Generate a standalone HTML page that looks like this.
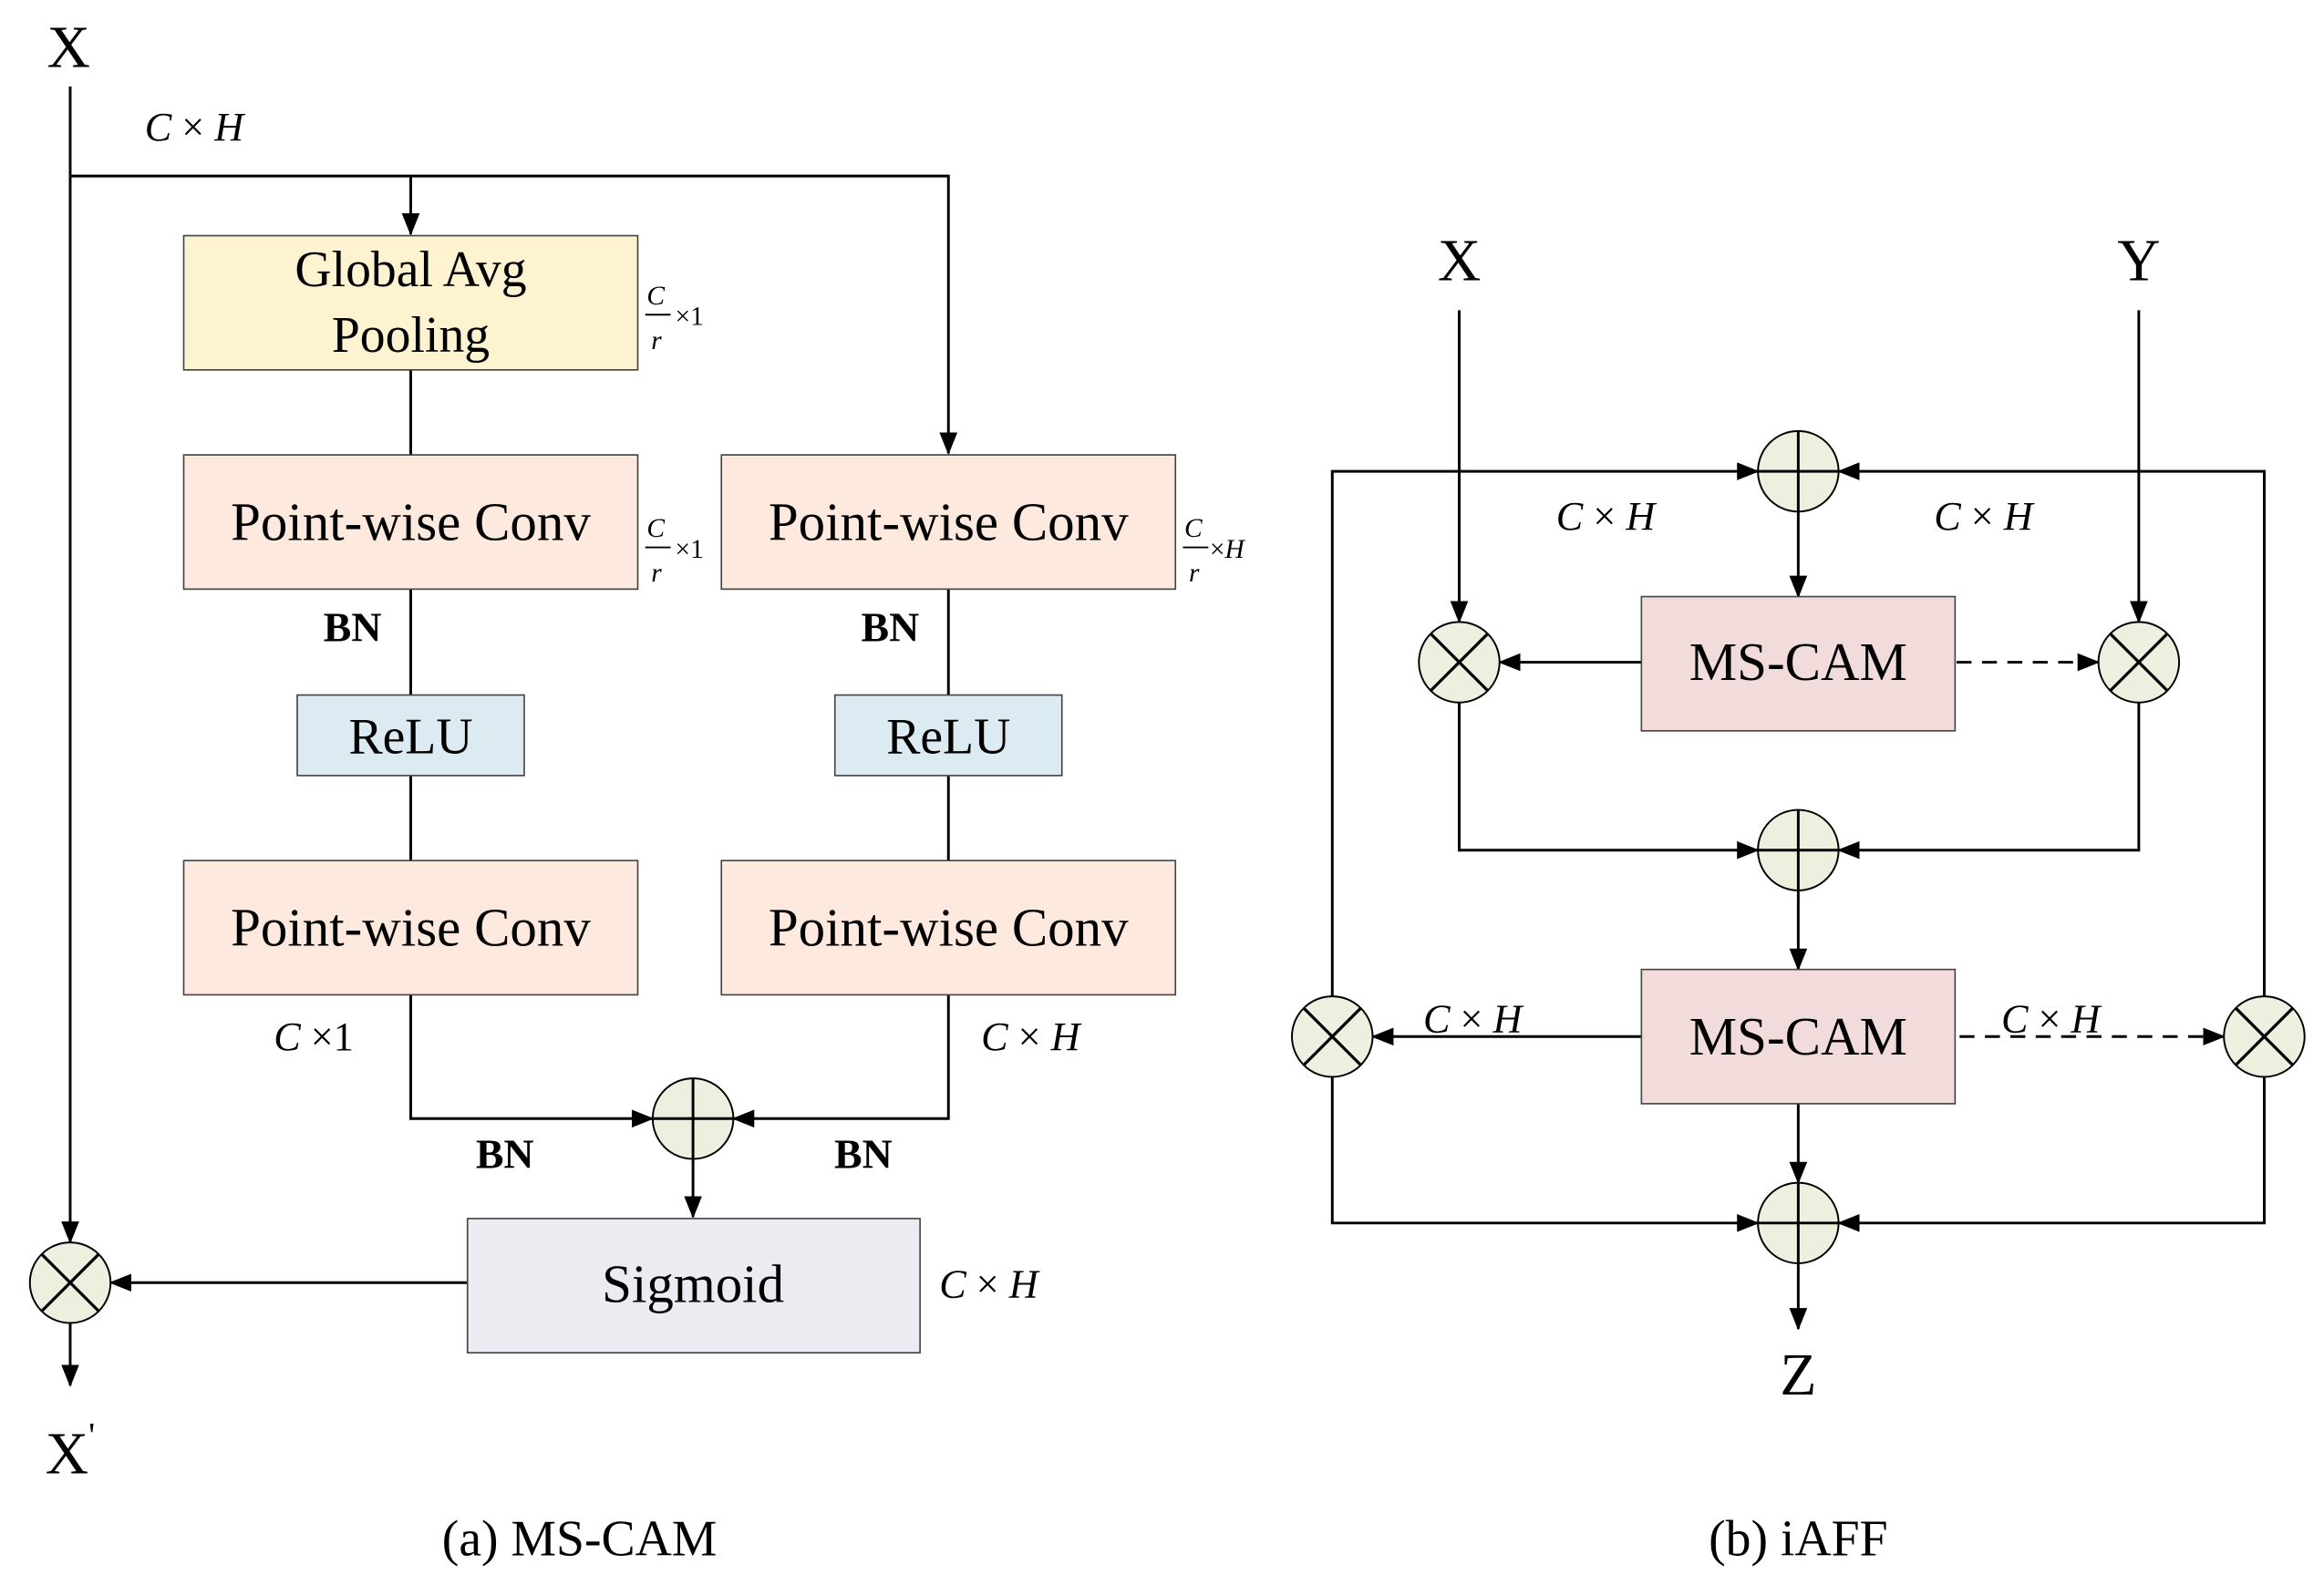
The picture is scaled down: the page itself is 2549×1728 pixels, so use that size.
<!DOCTYPE html>
<html><head><meta charset="utf-8"><style>html,body{margin:0;padding:0;background:#fff}svg{display:block}</style></head>
<body>
<svg width="2549" height="1728" viewBox="0 0 1556 1056" preserveAspectRatio="none" xmlns="http://www.w3.org/2000/svg" font-family="Liberation Serif, serif">
<defs>
<marker id="a" markerWidth="15" markerHeight="12" refX="14" refY="6" orient="auto" markerUnits="userSpaceOnUse" viewBox="0 0 15 12"><path d="M0,0 L15,6 L0,12 z" fill="#000"/></marker>
</defs>
<g stroke="#000" stroke-width="1.8" fill="none">
<line x1="47" y1="58" x2="47" y2="833" marker-end="url(#a)"/>
<polyline points="47,118 635,118 635,304" marker-end="url(#a)"/>
<line x1="275" y1="118" x2="275" y2="157" marker-end="url(#a)"/>
<line x1="275" y1="248" x2="275" y2="305"/>
<line x1="275" y1="395" x2="275" y2="466"/>
<line x1="635" y1="395" x2="635" y2="466"/>
<line x1="275" y1="520" x2="275" y2="577"/>
<line x1="635" y1="520" x2="635" y2="577"/>
<polyline points="275,667 275,750 437,750" marker-end="url(#a)"/>
<polyline points="635,667 635,750 491,750" marker-end="url(#a)"/>
<line x1="464" y1="777" x2="464" y2="816" marker-end="url(#a)"/>
<line x1="313" y1="860" x2="74" y2="860" marker-end="url(#a)"/>
<line x1="47" y1="886" x2="47" y2="929" marker-end="url(#a)"/>
<polyline points="892,668 892,316 1177,316" marker-end="url(#a)"/>
<polyline points="1516,668 1516,316 1231,316" marker-end="url(#a)"/>
<line x1="977" y1="208" x2="977" y2="417" marker-end="url(#a)"/>
<line x1="1432" y1="208" x2="1432" y2="417" marker-end="url(#a)"/>
<line x1="1204" y1="343" x2="1204" y2="400" marker-end="url(#a)"/>
<line x1="1099" y1="444" x2="1004" y2="444" marker-end="url(#a)"/>
<line x1="1310" y1="444" x2="1405" y2="444" stroke-dasharray="10,7" marker-end="url(#a)"/>
<polyline points="977,471 977,570 1177,570" marker-end="url(#a)"/>
<polyline points="1432,471 1432,570 1231,570" marker-end="url(#a)"/>
<line x1="1204" y1="597" x2="1204" y2="650" marker-end="url(#a)"/>
<line x1="1099" y1="695" x2="919" y2="695" marker-end="url(#a)"/>
<line x1="1312" y1="695" x2="1489" y2="695" stroke-dasharray="10,7" marker-end="url(#a)"/>
<polyline points="892,722 892,820 1177,820" marker-end="url(#a)"/>
<polyline points="1516,722 1516,820 1231,820" marker-end="url(#a)"/>
<line x1="1204" y1="740" x2="1204" y2="793" marker-end="url(#a)"/>
<line x1="1204" y1="847" x2="1204" y2="891" marker-end="url(#a)"/>
</g>
<g stroke="#444" stroke-width="1">
<rect x="123" y="158" width="304" height="90" fill="#fdf3d0"/>
<rect x="123" y="305" width="304" height="90" fill="#fde9de"/>
<rect x="483" y="305" width="304" height="90" fill="#fde9de"/>
<rect x="199" y="466" width="152" height="54" fill="#dcebf1"/>
<rect x="559" y="466" width="152" height="54" fill="#dcebf1"/>
<rect x="123" y="577" width="304" height="90" fill="#fde9de"/>
<rect x="483" y="577" width="304" height="90" fill="#fde9de"/>
<rect x="313" y="817" width="303" height="90" fill="#ecebf2"/>
<rect x="1099" y="400" width="210" height="90" fill="#f2dcdb"/>
<rect x="1099" y="650" width="210" height="90" fill="#f2dcdb"/>
</g>
<g stroke="#000" stroke-width="1.2" fill="#ebf1de">
<circle cx="464" cy="750" r="27"/><path d="M464,723 V777 M437,750 H491" fill="none" stroke-width="1.8"/>
<circle cx="1204" cy="316" r="27"/><path d="M1204,289 V343 M1177,316 H1231" fill="none" stroke-width="1.8"/>
<circle cx="1204" cy="570" r="27"/><path d="M1204,543 V597 M1177,570 H1231" fill="none" stroke-width="1.8"/>
<circle cx="1204" cy="820" r="27"/><path d="M1204,793 V847 M1177,820 H1231" fill="none" stroke-width="1.8"/>
<circle cx="47" cy="860" r="27"/><path d="M28,841 L66,879 M66,841 L28,879" fill="none" stroke-width="2"/>
<circle cx="977" cy="444" r="27"/><path d="M958,425 L996,463 M996,425 L958,463" fill="none" stroke-width="2"/>
<circle cx="1432" cy="444" r="27"/><path d="M1413,425 L1451,463 M1451,425 L1413,463" fill="none" stroke-width="2"/>
<circle cx="892" cy="695" r="27"/><path d="M873,676 L911,714 M911,676 L873,714" fill="none" stroke-width="2"/>
<circle cx="1516" cy="695" r="27"/><path d="M1497,676 L1535,714 M1535,676 L1497,714" fill="none" stroke-width="2"/>
</g>
<g fill="#000" text-anchor="middle">
<text x="46" y="45" font-size="40">X</text>
<text x="47" y="988" font-size="40">X<tspan font-size="24" dy="-18">'</tspan></text>
<text x="275" y="192" font-size="34">Global Avg</text>
<text x="275" y="236" font-size="34">Pooling</text>
<text x="275" y="362" font-size="36">Point-wise Conv</text>
<text x="635" y="362" font-size="36">Point-wise Conv</text>
<text x="275" y="505" font-size="34">ReLU</text>
<text x="635" y="505" font-size="34">ReLU</text>
<text x="275" y="634" font-size="36">Point-wise Conv</text>
<text x="635" y="634" font-size="36">Point-wise Conv</text>
<text x="464" y="873" font-size="36">Sigmoid</text>
<text x="1204" y="456" font-size="36">MS-CAM</text>
<text x="1204" y="707" font-size="36">MS-CAM</text>
<text x="977" y="188" font-size="40">X</text>
<text x="1432" y="188" font-size="40">Y</text>
<text x="1204" y="935" font-size="40">Z</text>
<text x="388" y="1043" font-size="34">(a) MS-CAM</text>
<text x="1204" y="1043" font-size="34">(b) iAFF</text>
<g font-weight="bold" font-size="28">
<text x="236" y="430">BN</text><text x="596" y="430">BN</text>
<text x="338" y="783">BN</text><text x="578" y="783">BN</text>
</g>
<g font-size="27">
<text x="130" y="94"><tspan font-style="italic">C</tspan> × <tspan font-style="italic">H</tspan></text>
<text x="210" y="704"><tspan font-style="italic">C</tspan> ×1</text>
<text x="690" y="704"><tspan font-style="italic">C</tspan> × <tspan font-style="italic">H</tspan></text>
<text x="662" y="870"><tspan font-style="italic">C</tspan> × <tspan font-style="italic">H</tspan></text>
<text x="1075" y="355"><tspan font-style="italic">C</tspan> × <tspan font-style="italic">H</tspan></text>
<text x="1328" y="355"><tspan font-style="italic">C</tspan> × <tspan font-style="italic">H</tspan></text>
<text x="986" y="692"><tspan font-style="italic">C</tspan> × <tspan font-style="italic">H</tspan></text>
<text x="1373" y="692"><tspan font-style="italic">C</tspan> × <tspan font-style="italic">H</tspan></text>
</g>
<g font-size="18" text-anchor="start">
<text x="433" y="204" font-style="italic">C</text><text x="436" y="234" font-style="italic">r</text><text x="452" y="218">×1</text>
<text x="433" y="360" font-style="italic">C</text><text x="436" y="390" font-style="italic">r</text><text x="452" y="374">×1</text>
<text x="793" y="360" font-style="italic">C</text><text x="796" y="390" font-style="italic">r</text><text x="810" y="374">×<tspan font-style="italic">H</tspan></text>
</g>
</g>
<g stroke="#000" stroke-width="1.2">
<line x1="432" y1="211" x2="449" y2="211"/>
<line x1="432" y1="367" x2="449" y2="367"/>
<line x1="792" y1="367" x2="809" y2="367"/>
</g>
</svg>
</body></html>
